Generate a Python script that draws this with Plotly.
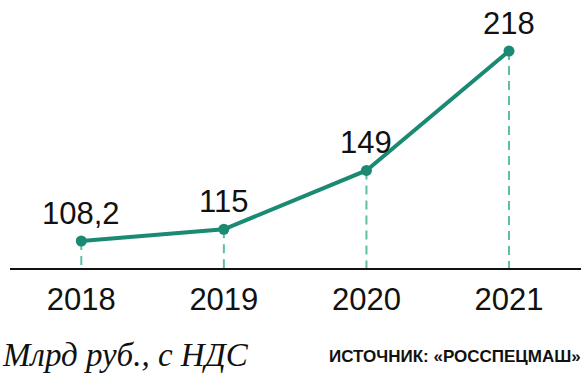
import plotly.graph_objects as go

years = [2018, 2019, 2020, 2021]
values = [108.2, 115, 149, 218]
labels = ["108,2", "115", "149", "218"]
tick_text = ["2018", "2019", "2020", "2021"]
unit_text = "Млрд руб., с НДС"
source_text = "ИСТОЧНИК: «РОССПЕЦМАШ»"

LINE = "#1b8a72"
DROP = "#5dbfa8"
Y_MIN, Y_MAX = 92.6, 247.5
SANS = "Liberation Sans Narrow, Arial Narrow, Liberation Sans, Arial"

fig = go.Figure()

# dashed drop lines from each point down to the baseline
dx, dy = [], []
for x, v in zip(years, values):
    dx += [x, x, None]
    dy += [v, Y_MIN, None]
fig.add_trace(go.Scatter(x=dx, y=dy, mode="lines",
                         line=dict(color=DROP, width=2, dash="9px,6px"),
                         hoverinfo="skip", cliponaxis=False))

fig.add_trace(go.Scatter(
    x=years, y=values, mode="lines+markers",
    line=dict(color=LINE, width=4),
    marker=dict(color=LINE, size=11),
    cliponaxis=False,
))

annotations = [
    dict(x=x, y=v, text=t, xref="x", yref="y", showarrow=False, yshift=28,
         xanchor="center", yanchor="middle",
         font=dict(family=SANS, size=31, color="#111111"))
    for x, v, t in zip(years, values, labels)
]
annotations += [
    dict(text=unit_text, xref="paper", yref="paper", x=-10 / 571, y=1 - 355 / 268,
         xanchor="left", yanchor="middle", showarrow=False,
         font=dict(family="Liberation Serif, Times New Roman, serif", size=33, color="#111111",
                   style="italic")),
    dict(text="<b>" + source_text + "</b>", xref="paper", yref="paper", x=(583 - 10) / 571,
         y=1 - 356 / 268, xanchor="right", yanchor="middle", showarrow=False,
         font=dict(family=SANS, size=17, color="#111111")),
]

fig.update_layout(
    width=586, height=380,
    margin=dict(l=10, r=5, t=0, b=112),
    paper_bgcolor="white", plot_bgcolor="white",
    showlegend=False,
    xaxis=dict(range=[2017.5, 2021.505], tickmode="array", tickvals=years, ticktext=tick_text,
               showgrid=False, zeroline=False, showline=True, linecolor="#111111", linewidth=2,
               ticks="", ticklabelstandoff=3,
               tickfont=dict(family=SANS, size=31, color="#111111")),
    yaxis=dict(range=[Y_MIN, Y_MAX], visible=False, showgrid=False, zeroline=False),
    annotations=annotations,
)

fig.write_html("out.html")
